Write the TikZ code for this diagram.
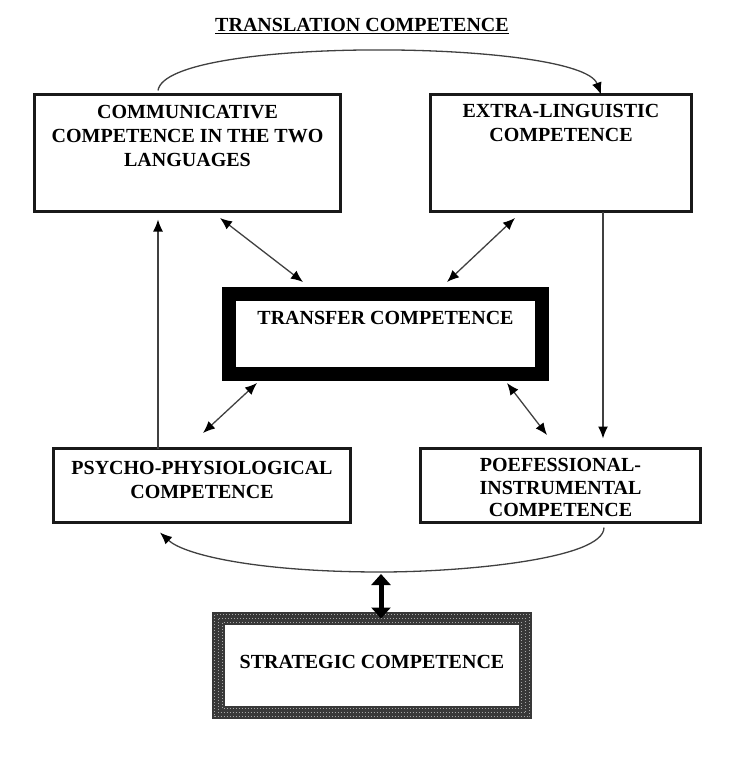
\documentclass[tikz,border=0pt]{standalone}
\usepackage{fontspec}
\setmainfont{Liberation Serif}
\usetikzlibrary{arrows.meta}

\begin{document}
\begin{tikzpicture}[
  x=1pt, y=-1pt, % pixel grid of the sketch, y runs downwards
  every node/.style={outer sep=0pt},
  box/.style={draw=black!90, line width=2.5pt, fill=white, align=center, inner ysep=0pt,
    font=\fontsize{20}{24}\selectfont\bfseries},
  transferbox/.style={box, draw=black, line width=14pt},
  strategybox/.style={box, draw=black!78, line width=13pt},
  heading/.style={font=\fontsize{20}{24}\selectfont\bfseries},
  wire/.style={draw=black!75, line width=1.3pt},
  onehead/.style={-{Latex[length=12pt, width=10pt, color=black]}},
  twoheads/.style={{Latex[length=12pt, width=10pt, color=black]}-{Latex[length=12pt, width=10pt, color=black]}},
  bigwire/.style={draw=black, line width=5pt, {Triangle[length=11pt, width=19pt]}-{Triangle[length=11pt, width=19pt]}}
]
\useasboundingbox (0,0) rectangle (754,760);

% --- Title ---
\node[heading, anchor=base] (title) at (362,32) {\underline{TRANSLATION COMPETENCE}};

% --- Top row ---
% (text height counts down to the last line of text)
\node[box, minimum width=306pt, text height=71.5pt, text depth=45.5pt] (cc) at (187.5,153)
  {COMMUNICATIVE\\COMPETENCE IN THE TWO\\LANGUAGES};
\node[box, minimum width=261pt, text height=46.5pt, text depth=70.5pt] (el) at (561,153)
  {EXTRA-LINGUISTIC\\COMPETENCE};

% --- Middle ---
\node[transferbox, minimum width=313pt, text height=30pt, text depth=50pt] (trans) at (385.5,334)
  {TRANSFER COMPETENCE};

% --- Bottom row ---
\node[box, minimum width=297pt, text height=49.5pt, text depth=24.5pt] (pp) at (202,485.5)
  {PSYCHO-PHYSIOLOGICAL\\COMPETENCE};
\node[box, minimum width=280pt, text height=68pt, text depth=6pt] (pi) at (560.5,485.5)
  {POEFESSIONAL-\\[-1.5pt]INSTRUMENTAL\\[-1.5pt]COMPETENCE};

% --- Strategic ---
\node[strategybox, minimum width=307pt, text height=49.5pt, text depth=44.5pt] (strat) at (372,665.5)
  {STRATEGIC COMPETENCE};
% grainy frame
\foreach \d in {-4,0,4}
  \draw[black!35, line width=1pt, dash pattern=on 1pt off 2pt]
    ([shift={(-\d pt,\d pt)}]strat.north west) rectangle ([shift={(\d pt,-\d pt)}]strat.south east);

% --- Arrows ---
\draw[wire, onehead] ([xshift=-29.5pt,yshift=4pt]cc.north) .. controls +(8,-55) and +(-20,-55) .. ([xshift=40pt]el.north);
\draw[wire, onehead, shorten >=8pt] ([xshift=-44pt]pp.north) -- ([xshift=-44pt]pp.north |- cc.south);
\draw[wire, onehead, shorten >=10pt] ([xshift=42pt]el.south) -- ([xshift=42pt]el.south |- pi.north);

\draw[wire, twoheads] ([xshift=32.5pt,yshift=-6.5pt]cc.south) -- ([xshift=-82.5pt,yshift=12pt]trans.north);
\draw[wire, twoheads] ([xshift=-46pt,yshift=-6.5pt]el.south) -- ([xshift=61.5pt,yshift=12pt]trans.north);
\draw[wire, twoheads] ([xshift=-128.5pt,yshift=-9pt]trans.south) -- ([xshift=1pt,yshift=15.5pt]pp.north);
\draw[wire, twoheads] ([xshift=121.5pt,yshift=-9pt]trans.south) -- ([xshift=-13.5pt,yshift=13.5pt]pi.north);

% lower bow and the link down to the strategic box
\coordinate (meet) at (381,572);
\draw[wire, onehead] ([xshift=43.5pt,yshift=-5pt]pi.south) .. controls +(0,32) and +(79,0) .. (meet)
  .. controls +(-121,0) and +(25,23) .. ([xshift=-42pt,yshift=-10pt]pp.south);
\draw[bigwire] ([yshift=-2pt]meet) -- (meet |- strat.north);

\end{tikzpicture}
\end{document}
